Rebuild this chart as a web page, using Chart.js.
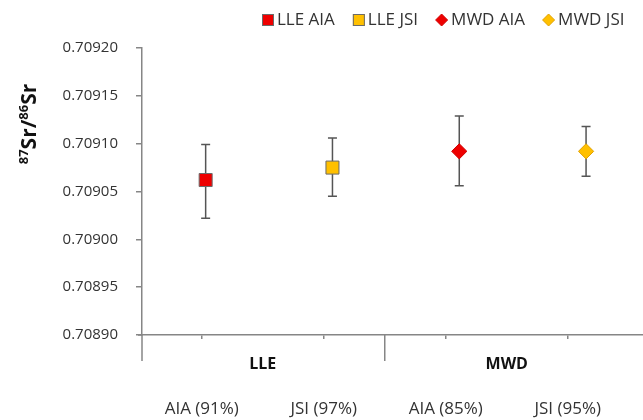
<!DOCTYPE html>
<html><head><meta charset="utf-8">
<script src="https://cdn.jsdelivr.net/npm/chart.js@4"></script>
<style>html,body{margin:0;padding:0;background:#fff}</style>
</head><body>
<canvas id="c" width="643" height="420"></canvas>
<script>
// ---- data ----
const categories = ['AIA (91%)', 'JSI (97%)', 'AIA (85%)', 'JSI (95%)'];
const groups = ['LLE', 'MWD'];
const seriesNames = ['LLE AIA', 'LLE JSI', 'MWD AIA', 'MWD JSI'];
const means = [0.709062, 0.709075, 0.709092, 0.709092];
const upper = [0.709099, 0.709106, 0.709129, 0.709118];
const lower = [0.709022, 0.709045, 0.709056, 0.709066];
const yTicks = [0.70890, 0.70895, 0.70900, 0.70905, 0.70910, 0.70915, 0.70920];

// ---- styles ----
const FONT = "'Open Sans', sans-serif";
const colors = ['#ee0000', '#ffc000', '#ee0000', '#ffc000'];
const borders = ['#6b6b6b', '#6b6b6b', '#d00000', '#e0a000'];
const shapes = ['rect', 'rect', 'rectRot', 'rectRot'];
const radii = [9.2, 9.2, 7.6, 7.6];
const AXIS = '#868686';
const TEXT = '#333333';

const datasets = seriesNames.map((name, i) => ({
  label: name,
  data: [{x: i, y: means[i]}],
  xAxisID: 'x2',
  yAxisID: 'y',
  backgroundColor: colors[i],
  borderColor: borders[i],
  borderWidth: 1,
  pointStyle: shapes[i],
  pointRadius: radii[i],
  pointHoverRadius: radii[i],
  showLine: false
}));

const extras = {
  id: 'extras',
  beforeDatasetsDraw(chart) {
    const ctx = chart.ctx, y = chart.scales.y, x2 = chart.scales.x2;
    ctx.save();
    ctx.strokeStyle = '#555555';
    ctx.lineWidth = 1.5;
    seriesNames.forEach((n, i) => {
      const px = x2.getPixelForValue(i);
      const top = y.getPixelForValue(upper[i]);
      const bot = y.getPixelForValue(lower[i]);
      ctx.beginPath();
      ctx.moveTo(px, top); ctx.lineTo(px, bot);
      ctx.moveTo(px - 4.5, top); ctx.lineTo(px + 4.5, top);
      ctx.moveTo(px - 4.5, bot); ctx.lineTo(px + 4.5, bot);
      ctx.stroke();
    });
    ctx.restore();
  },
  afterDraw(chart) {
    const ctx = chart.ctx, ca = chart.chartArea, xs = chart.scales.x;
    ctx.save();
    // axis extensions and group separator
    ctx.strokeStyle = AXIS;
    ctx.lineWidth = 1.5;
    ctx.beginPath();
    ctx.moveTo(ca.left, ca.bottom); ctx.lineTo(ca.left, ca.bottom + 26);
    ctx.moveTo(ca.left - 4, ca.bottom); ctx.lineTo(ca.left, ca.bottom);
    const sep = xs.getPixelForValue(1.5);
    ctx.moveTo(sep, ca.bottom); ctx.lineTo(sep, ca.bottom + 26);
    ctx.stroke();
    // group labels
    ctx.fillStyle = '#111';
    ctx.font = "bold 16px " + FONT;
    ctx.textAlign = 'center';
    ctx.textBaseline = 'middle';
    groups.forEach((g, gi) => {
      ctx.fillText(g, xs.getPixelForValue(gi * 2 + 0.5), ca.bottom + 29);
    });
    // y title with superscripts
    ctx.translate(28, 124);
    ctx.rotate(-Math.PI / 2);
    const parts = [['87', true], ['Sr', false], ['/', false], ['86', true], ['Sr', false]];
    const big = "bold 21px " + FONT, small = "bold 13px " + FONT;
    let w = 0;
    parts.forEach(p => { ctx.font = p[1] ? small : big; w += ctx.measureText(p[0]).width; });
    let cx = -w / 2;
    ctx.textAlign = 'left';
    ctx.textBaseline = 'alphabetic';
    ctx.fillStyle = '#111';
    parts.forEach(p => {
      ctx.font = p[1] ? small : big;
      ctx.fillText(p[0], cx, p[1] ? 0 : 8);
      cx += ctx.measureText(p[0]).width;
    });
    ctx.setTransform(1, 0, 0, 1, 0, 0);
    // legend
    let lx = 262;
    const ly = 20;
    ctx.font = "17px " + FONT;
    ctx.textBaseline = 'middle';
    seriesNames.forEach((n, i) => {
      ctx.fillStyle = colors[i];
      ctx.strokeStyle = borders[i];
      ctx.lineWidth = 1;
      if (shapes[i] === 'rect') {
        ctx.fillRect(lx, ly - 6, 12, 12);
        ctx.strokeRect(lx + 0.5, ly - 5.5, 11, 11);
      } else {
        ctx.beginPath();
        ctx.moveTo(lx + 5.5, ly - 6); ctx.lineTo(lx + 11.5, ly);
        ctx.lineTo(lx + 5.5, ly + 6); ctx.lineTo(lx - 0.5, ly);
        ctx.closePath(); ctx.fill(); ctx.stroke();
      }
      ctx.fillStyle = TEXT;
      ctx.fillText(n, lx + 15, ly);
      lx += 15 + ctx.measureText(n).width + 18;
    });
    ctx.restore();
  }
};

new Chart(document.getElementById('c'), {
  type: 'scatter',
  data: {datasets},
  options: {
    responsive: false,
    devicePixelRatio: 1,
    animation: false,
    layout: {autoPadding: false, padding: {top: 48, right: 0, left: 0, bottom: 0}},
    plugins: {legend: {display: false}, tooltip: {enabled: false}},
    scales: {
      x: {
        type: 'linear', position: 'bottom',
        min: -0.49, max: 3.617,
        afterBuildTicks: s => { s.ticks = categories.map((c, i) => ({value: i})); },
        afterFit: s => { s.height = 85; s.paddingLeft = 0; s.paddingRight = 0; },
        ticks: {
          callback: v => categories[v],
          font: {family: FONT, size: 17},
          color: TEXT,
          padding: 60,
          maxRotation: 0,
          autoSkip: false
        },
        grid: {drawOnChartArea: false, drawTicks: true, tickLength: 4, color: AXIS, lineWidth: 1.5},
        border: {color: AXIS, width: 1.5}
      },
      x2: {type: 'linear', display: false, min: -0.502, max: 3.449},
      y: {
        min: 0.7089, max: 0.7092,
        afterBuildTicks: s => { s.ticks = yTicks.map(v => ({value: v})); },
        afterFit: s => { s.width = 142; },
        ticks: {
          callback: v => v.toFixed(5),
          font: {family: FONT, size: 15},
          color: TEXT,
          padding: 18
        },
        grid: {drawOnChartArea: false, drawTicks: true, tickLength: 6, color: AXIS, lineWidth: 1.5},
        border: {color: AXIS, width: 1.5}
      }
    }
  },
  plugins: [extras]
});
</script>
</body></html>
